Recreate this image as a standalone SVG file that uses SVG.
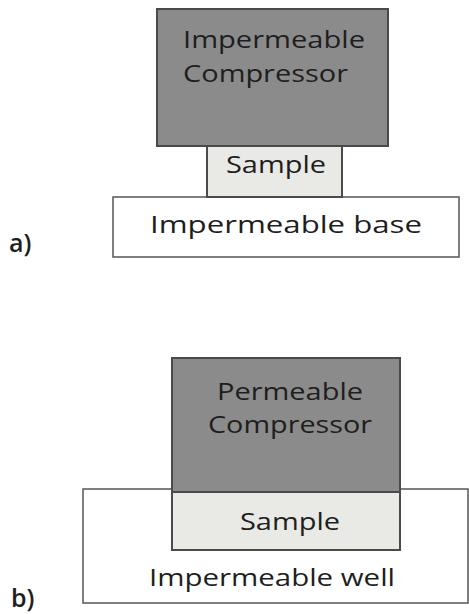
<svg xmlns="http://www.w3.org/2000/svg" width="469" height="614" viewBox="0 0 469 614">
<style>
.comp{fill:#8b8b8b;stroke:#4a4a4a;stroke-width:2}
.samp{fill:#e9e9e5;stroke:#4a4a4a;stroke-width:2}
.base{fill:#ffffff;stroke:#555555;stroke-width:1.5}
.t{font-family:"Open Sans",sans-serif;font-size:23px;font-weight:500;fill:#1e1e1e;text-anchor:middle}
.lbl{font-family:"Open Sans",sans-serif;font-size:25px;font-weight:600;fill:#1e1e1e}
</style>
<rect width="469" height="614" fill="#ffffff"/>
<g id="a-base"><rect class="base" x="113" y="197" width="346" height="60"/><text class="t" x="286" y="233" textLength="272" lengthAdjust="spacingAndGlyphs">Impermeable base</text></g>
<g id="a-sample"><rect class="samp" x="207" y="146" width="135" height="51"/><text class="t" x="276" y="173" textLength="100" lengthAdjust="spacingAndGlyphs">Sample</text></g>
<g id="a-comp"><rect class="comp" x="157" y="9" width="231" height="137"/><text class="t" x="274" y="48" textLength="182" lengthAdjust="spacingAndGlyphs">Impermeable</text><text class="t" x="265.5" y="82" textLength="165" lengthAdjust="spacingAndGlyphs">Compressor</text></g>
<text class="lbl" x="9" y="252">a)</text>
<g id="b-well"><rect class="base" x="83" y="489" width="385" height="114"/><text class="t" x="272" y="586" textLength="246" lengthAdjust="spacingAndGlyphs">Impermeable well</text></g>
<g id="b-sample"><rect class="samp" x="172" y="492" width="228" height="58"/><text class="t" x="290" y="530" textLength="100" lengthAdjust="spacingAndGlyphs">Sample</text></g>
<g id="b-comp"><rect class="comp" x="172" y="358" width="228" height="134"/><text class="t" x="290" y="400" textLength="146" lengthAdjust="spacingAndGlyphs">Permeable</text><text class="t" x="290" y="433" textLength="164" lengthAdjust="spacingAndGlyphs">Compressor</text></g>
<text class="lbl" x="11" y="607">b)</text>
</svg>
